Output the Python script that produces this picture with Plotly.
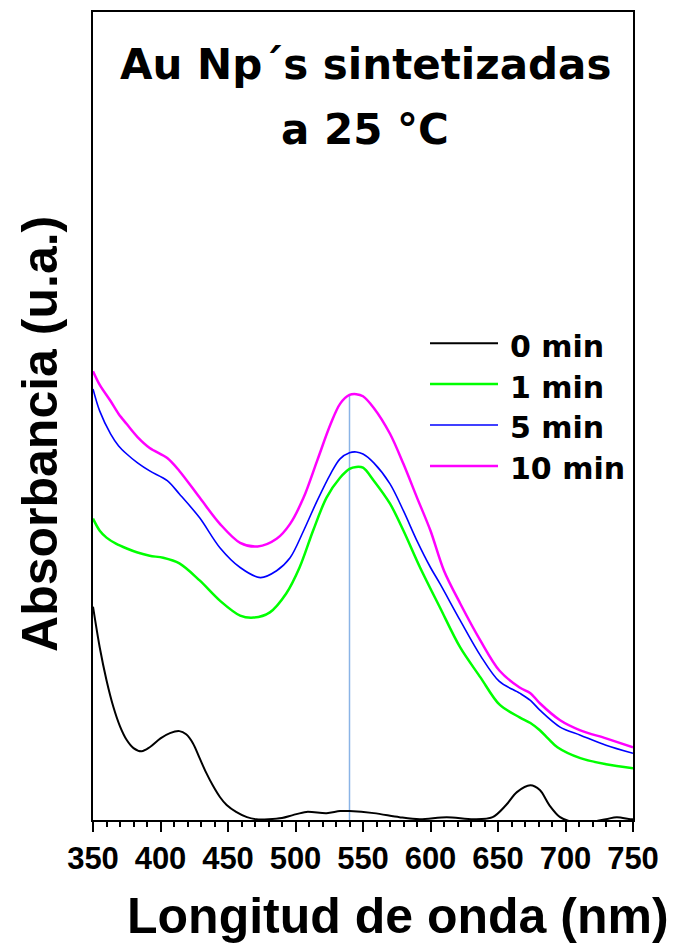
import plotly.graph_objects as go

# ---------------- data ----------------
series_names = ["0 min", "1 min", "5 min", "10 min"]
series_colors = ["#000000", "#00ff00", "#0000ff", "#ff00ff"]
series_widths = [2, 2.5, 1.6, 2.5]

wl_0 = [350, 355, 360, 365, 370, 375, 380, 386, 392, 400, 407, 414, 419, 424, 429, 434, 439, 444, 449, 456, 464,
        471, 480, 490, 498, 508, 523, 533, 540, 558, 577, 592, 612, 632, 646, 656, 664, 674, 681, 688, 696, 706,
        718, 730, 738, 748, 750]
abs_0 = [0.528, 0.427, 0.346, 0.281, 0.232, 0.198, 0.178, 0.170, 0.180, 0.202, 0.215, 0.220, 0.212, 0.190, 0.153,
         0.116, 0.084, 0.057, 0.037, 0.020, 0.007, 0.002, 0.002, 0.005, 0.012, 0.020, 0.017, 0.022, 0.022, 0.017,
         0.007, 0.002, 0.007, 0.002, 0.007, 0.037, 0.069, 0.086, 0.074, 0.037, 0.007, -0.005, -0.005, 0.002,
         0.007, 0.002, 0.002]

wl_1 = [350, 355, 360, 367, 375, 383, 392, 402, 414, 429, 444, 459, 469, 481, 493, 503, 513, 523, 533, 540, 545,
        550, 558, 570, 580, 592, 607, 622, 637, 651, 666, 674, 681, 687, 694, 711, 730, 750]
abs_1 = [0.746, 0.716, 0.699, 0.684, 0.672, 0.662, 0.654, 0.649, 0.635, 0.593, 0.543, 0.506, 0.501, 0.514, 0.560,
         0.625, 0.716, 0.798, 0.847, 0.869, 0.874, 0.872, 0.840, 0.783, 0.716, 0.627, 0.526, 0.427, 0.353, 0.286,
         0.254, 0.240, 0.222, 0.202, 0.180, 0.153, 0.138, 0.128]

wl_5 = [350, 355, 363, 369, 375, 383, 392, 405, 414, 429, 444, 459, 474, 486, 496, 506, 516, 526, 533, 540, 545,
        550, 558, 570, 580, 590, 600, 607, 622, 637, 651, 666, 674, 681, 696, 711, 730, 750]
abs_5 = [1.067, 1.012, 0.956, 0.926, 0.906, 0.884, 0.864, 0.840, 0.807, 0.748, 0.674, 0.625, 0.600, 0.617, 0.649,
         0.716, 0.790, 0.857, 0.894, 0.909, 0.911, 0.906, 0.884, 0.832, 0.765, 0.691, 0.625, 0.585, 0.494, 0.407,
         0.343, 0.314, 0.296, 0.272, 0.230, 0.210, 0.185, 0.165]

wl_10 = [350, 355, 363, 369, 375, 383, 392, 405, 414, 429, 444, 459, 472, 486, 496, 506, 516, 526, 533, 540, 545,
         550, 558, 570, 580, 590, 600, 610, 622, 637, 651, 666, 674, 681, 696, 711, 730, 750]
abs_10 = [1.111, 1.077, 1.037, 1.005, 0.980, 0.948, 0.921, 0.896, 0.864, 0.798, 0.733, 0.686, 0.677, 0.696, 0.733,
          0.798, 0.889, 0.980, 1.030, 1.052, 1.054, 1.049, 1.020, 0.956, 0.881, 0.798, 0.716, 0.617, 0.536, 0.444,
          0.370, 0.328, 0.314, 0.289, 0.247, 0.222, 0.202, 0.180]

marker_wl = 540
x_ticks = [350, 400, 450, 500, 550, 600, 650, 700, 750]
title_lines = ["Au Np´s sintetizadas", "a 25 °C"]
x_title = "Longitud de onda (nm)"
y_title = "Absorbancia (u.a.)"

# ---------------- figure ----------------
# the page body adds an 8px margin, so the figure is laid out in page pixels minus 8
OFF = 8
W, H = 675 - OFF, 944 - OFF
L, R, T, B = 93 - OFF, 42, 10 - OFF, 124
PW, PH = W - L - R, H - T - B


def px2paper_x(px):
    # px given in page pixels
    return (px - OFF - L) / PW


def px2paper_y(py):
    return (H - B - (py - OFF)) / PH


fig = go.Figure()

# vertical marker line at the plasmon peak
peak_val = abs_10[wl_10.index(marker_wl)]
fig.add_trace(go.Scatter(x=[marker_wl, marker_wl], y=[0, peak_val], mode="lines",
                         line=dict(color="#8ab4e6", width=1.5), showlegend=False, hoverinfo="skip"))

all_x = [wl_0, wl_1, wl_5, wl_10]
all_y = [abs_0, abs_1, abs_5, abs_10]
for name, xs, ys, c, w in zip(series_names, all_x, all_y, series_colors, series_widths):
    fig.add_trace(go.Scatter(x=xs, y=ys, mode="lines", name=name,
                             line=dict(color=c, width=w, shape="spline", smoothing=0.9),
                             showlegend=False))

# manual legend
leg_y_px = [342, 383, 424, 465]
for name, c, w, ly in zip(series_names, series_colors, series_widths, leg_y_px):
    fig.add_shape(type="line", xref="paper", yref="paper",
                  x0=px2paper_x(430), x1=px2paper_x(498), y0=px2paper_y(ly), y1=px2paper_y(ly),
                  line=dict(color=c, width=w))
    fig.add_annotation(text=name, xref="paper", yref="paper", x=px2paper_x(508), y=px2paper_y(ly + 3),
                       xanchor="left", yanchor="middle", showarrow=False,
                       font=dict(family="DejaVu Sans", size=30, color="black", weight="bold"))

# title lines
for txt, cy in zip(title_lines, [63, 128]):
    fig.add_annotation(text=txt, xref="paper", yref="paper", x=px2paper_x(365), y=px2paper_y(cy),
                       xanchor="center", yanchor="middle", showarrow=False,
                       font=dict(family="DejaVu Sans", size=42, color="black", weight="bold"))

# axis titles
fig.add_annotation(text=x_title, xref="paper", yref="paper", x=px2paper_x(398), y=px2paper_y(916),
                   xanchor="center", yanchor="middle", showarrow=False,
                   font=dict(family="Liberation Sans", size=50, color="black", weight="bold"))
fig.add_annotation(text=y_title, xref="paper", yref="paper", x=px2paper_x(40), y=px2paper_y(433),
                   xanchor="center", yanchor="middle", showarrow=False, textangle=-90,
                   font=dict(family="Liberation Sans", size=50, color="black", weight="bold"))

fig.update_xaxes(range=[350, 750], tickvals=x_ticks, ticks="outside", ticklen=10, tickwidth=2,
                 tickcolor="black", showline=True, linecolor="black", linewidth=2, mirror=True,
                 showgrid=False, zeroline=False,
                 tickfont=dict(family="Liberation Sans", size=31, color="black", weight="bold"),
                 minor=dict(dtick=10, tick0=350, ticks="outside", ticklen=5, tickwidth=2, tickcolor="black",
                            showgrid=False))
fig.update_yaxes(range=[0, 2.0], showticklabels=False, ticks="", showline=True, linecolor="black",
                 linewidth=2, mirror=True, showgrid=False, zeroline=False)

fig.update_layout(width=W, height=H, autosize=False,
                  margin=dict(l=L, r=R, t=T, b=B),
                  plot_bgcolor="white", paper_bgcolor="white", showlegend=False)

fig.write_html("out.html")
